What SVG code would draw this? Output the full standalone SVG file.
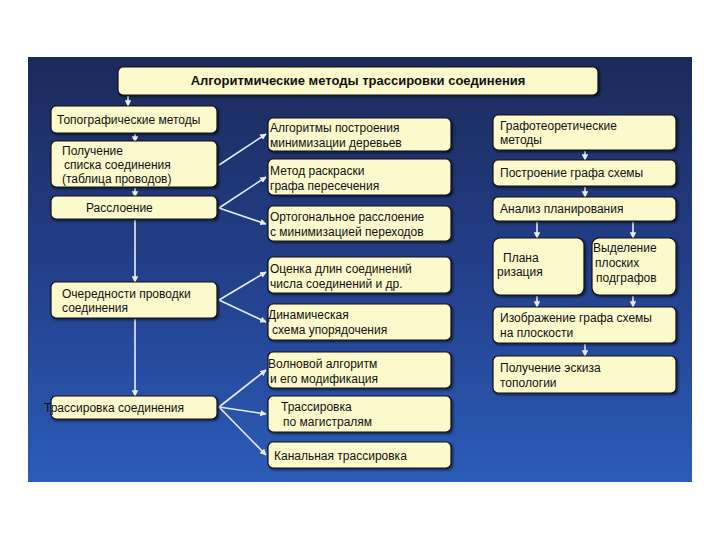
<svg xmlns="http://www.w3.org/2000/svg" width="720" height="540" viewBox="0 0 720 540">
<defs>
<linearGradient id="bg" x1="0" y1="0" x2="0" y2="1">
<stop offset="0" stop-color="#1b2a5a"/>
<stop offset="0.5" stop-color="#233f8a"/>
<stop offset="1" stop-color="#2b5cb8"/>
</linearGradient>
<marker id="ah" viewBox="0 0 10 10" refX="9" refY="5" markerWidth="4" markerHeight="4" orient="auto" markerUnits="strokeWidth">
<path d="M0,0 L10,5 L0,10 z" fill="#e6eeff"/>
</marker>
<filter id="sh" x="-5%" y="-10%" width="115%" height="130%">
<feDropShadow dx="1.5" dy="1.5" stdDeviation="0.8" flood-color="#000" flood-opacity="0.6"/>
</filter>
</defs>
<style>
.b{fill:#fcf9cc;stroke:#111;stroke-width:1.2;filter:url(#sh)}
text{font-family:"Liberation Sans",Arial,sans-serif;font-size:12px;fill:#111}
.t{font-size:13px;font-weight:bold}
.c{fill:none;stroke:#e6eeff;stroke-width:1.6;marker-end:url(#ah)}
</style>
<rect x="0" y="0" width="720" height="540" fill="#fff"/>
<rect x="28" y="57" width="664" height="425" fill="url(#bg)"/>

<g id="connectors">
<line class="c" x1="128" y1="96" x2="128" y2="106"/>
<line class="c" x1="135" y1="134" x2="135" y2="142"/>
<line class="c" x1="135" y1="188" x2="135" y2="197"/>
<line class="c" x1="135" y1="220" x2="135" y2="282"/>
<line class="c" x1="135" y1="319" x2="135" y2="396"/>
<line class="c" x1="219" y1="165" x2="266" y2="134"/>
<line class="c" x1="219" y1="208" x2="266" y2="177"/>
<line class="c" x1="219" y1="208" x2="266" y2="224"/>
<line class="c" x1="219" y1="300" x2="266" y2="272"/>
<line class="c" x1="219" y1="300" x2="266" y2="322"/>
<line class="c" x1="219" y1="407" x2="266" y2="370"/>
<line class="c" x1="219" y1="407" x2="266" y2="414"/>
<line class="c" x1="219" y1="407" x2="266" y2="455"/>
<line class="c" x1="585" y1="151" x2="585" y2="160"/>
<line class="c" x1="585" y1="187" x2="585" y2="197"/>
<line class="c" x1="537" y1="222" x2="537" y2="238"/>
<line class="c" x1="633" y1="222" x2="633" y2="238"/>
<line class="c" x1="537" y1="296" x2="537" y2="307"/>
<line class="c" x1="633" y1="296" x2="633" y2="307"/>
<line class="c" x1="585" y1="344" x2="585" y2="356"/>
</g>

<g id="title"><rect class="b" x="118" y="67" width="480" height="28" rx="5"/>
<text class="t" x="358" y="85" text-anchor="middle">Алгоритмические методы трассировки соединения</text></g>

<g id="n-topo"><rect class="b" x="51" y="106" width="166" height="27" rx="5"/>
<text x="57" y="124">Топографические методы</text></g>
<g id="n-list"><rect class="b" x="51" y="141" width="166" height="46" rx="5"/>
<text x="62" y="155">Получение</text><text x="64" y="169">списка соединения</text><text x="62" y="183">(таблица проводов)</text></g>
<g id="n-layer"><rect class="b" x="51" y="196" width="166" height="23" rx="5"/>
<text x="86" y="212">Расслоение</text></g>
<g id="n-order"><rect class="b" x="51" y="282" width="166" height="36" rx="5"/>
<text x="62" y="298">Очередности проводки</text><text x="62" y="312">соединения</text></g>
<g id="n-route"><rect class="b" x="51" y="396" width="166" height="23" rx="5"/>
<text x="44" y="412">Трассировка соединения</text></g>

<g id="n-alg"><rect class="b" x="268" y="118" width="183" height="33" rx="5"/>
<text x="270" y="132">Алгоритмы построения</text><text x="270" y="147">минимизации деревьев</text></g>
<g id="n-color"><rect class="b" x="268" y="159" width="183" height="36" rx="5"/>
<text x="270" y="175">Метод раскраски</text><text x="270" y="190">графа пересечения</text></g>
<g id="n-orth"><rect class="b" x="268" y="206" width="183" height="35" rx="5"/>
<text x="270" y="221">Ортогональное расслоение</text><text x="270" y="236">с минимизацией переходов</text></g>
<g id="n-est"><rect class="b" x="268" y="257" width="183" height="36" rx="5"/>
<text x="270" y="273">Оценка длин соединений</text><text x="270" y="288">числа соединений и др.</text></g>
<g id="n-dyn"><rect class="b" x="268" y="304" width="183" height="36" rx="5"/>
<text x="268" y="319">Динамическая</text><text x="272" y="334">схема упорядочения</text></g>
<g id="n-wave"><rect class="b" x="268" y="352" width="183" height="36" rx="5"/>
<text x="268" y="368">Волновой алгоритм</text><text x="270" y="383">и его модификация</text></g>
<g id="n-trunk"><rect class="b" x="268" y="396" width="183" height="36" rx="5"/>
<text x="281" y="411">Трассировка</text><text x="283" y="426">по магистралям</text></g>
<g id="n-chan"><rect class="b" x="268" y="442" width="183" height="26" rx="5"/>
<text x="274" y="460">Канальная трассировка</text></g>

<g id="n-graph"><rect class="b" x="493" y="115" width="183" height="35" rx="5"/>
<text x="500" y="130">Графотеоретические</text><text x="500" y="144">методы</text></g>
<g id="n-build"><rect class="b" x="493" y="160" width="183" height="26" rx="5"/>
<text x="500" y="177">Построение графа схемы</text></g>
<g id="n-anal"><rect class="b" x="493" y="197" width="183" height="24" rx="5"/>
<text x="500" y="213">Анализ планирования</text></g>
<g id="n-plan"><rect class="b" x="493" y="238" width="91" height="57" rx="7"/>
<text x="503" y="262">Плана</text><text x="497" y="276">ризация</text></g>
<g id="n-sel"><rect class="b" x="592" y="238" width="84" height="57" rx="7"/>
<text x="593" y="252">Выделение</text><text x="595" y="267">плоских</text><text x="596" y="282">подграфов</text></g>
<g id="n-img"><rect class="b" x="493" y="307" width="183" height="36" rx="5"/>
<text x="500" y="322">Изображение графа схемы</text><text x="500" y="337">на плоскости</text></g>
<g id="n-sketch"><rect class="b" x="493" y="356" width="183" height="37" rx="5"/>
<text x="500" y="372">Получение эскиза</text><text x="500" y="387">топологии</text></g>
</svg>
